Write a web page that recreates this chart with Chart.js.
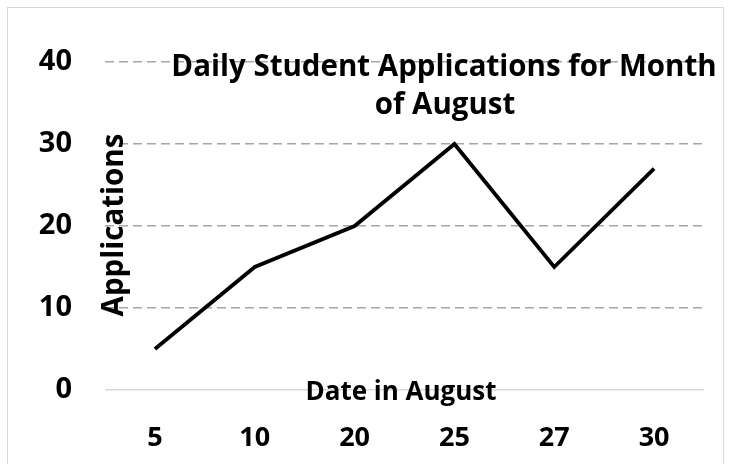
<!DOCTYPE html>
<html>
<head>
<meta charset="utf-8">
<script src="https://cdn.jsdelivr.net/npm/chart.js@4"></script>
<style>
    html, body { margin: 0; padding: 0; background: #fff; }
    #wrap { position: relative; width: 731px; height: 464px; }
    #frame { position: absolute; left: 7px; top: 7px; width: 717px; height: 470px;
             border: 1.5px solid #d9d9d9; box-sizing: border-box; pointer-events: none; }
</style>
</head>
<body>
<div id="wrap">
    <canvas id="applicationsChart" width="731" height="464"></canvas>
    <div id="frame"></div>
</div>
<script>
const dates = ['5', '10', '20', '25', '27', '30'];
const applications = [5, 15, 20, 30, 15, 27];
const yTicks = [0, 10, 20, 30, 40];

const chartTitle = ['Daily Student Applications for Month', 'of August'];
const xTitle = 'Date in August';
const yTitle = 'Applications';

const FONT = '"Open Sans"';

// titles sit inside the plot area in the original, so they are drawn by hand
const overlayTitles = {
    id: 'overlayTitles',
    afterDraw(chart) {
        const { ctx, chartArea, scales } = chart;
        ctx.save();
        ctx.fillStyle = '#000';
        ctx.textAlign = 'center';
        ctx.textBaseline = 'middle';

        ctx.font = `bold 29.5px ${FONT}`;
        ctx.fillText(chartTitle[0], 444, 68);
        ctx.fillText(chartTitle[1], 445, 106);

        ctx.font = `bold 26px ${FONT}`;
        ctx.fillText(xTitle, 401, chartArea.bottom + 3);

        ctx.translate(115, scales.y.getPixelForValue(20) - 1);
        ctx.rotate(-Math.PI / 2);
        ctx.font = `bold 29.5px ${FONT}`;
        ctx.fillText(yTitle, 0, 0);
        ctx.restore();
    }
};

const ctx = document.getElementById('applicationsChart').getContext('2d');
new Chart(ctx, {
    type: 'line',
    data: {
        labels: dates,
        datasets: [{
            label: 'Applications',
            data: applications,
            borderColor: '#000',
            borderWidth: 3.8,
            borderJoinStyle: 'miter',
            pointRadius: 0,
            tension: 0,
            fill: false
        }]
    },
    options: {
        responsive: false,
        animation: false,
        layout: {
            padding: { left: 0, top: 62, right: 27, bottom: 0 }
        },
        plugins: {
            legend: { display: false },
            tooltip: { enabled: false }
        },
        scales: {
            x: {
                offset: true,
                grid: { display: false },
                border: { display: false },
                ticks: {
                    color: '#000',
                    padding: 24,
                    font: { family: FONT, weight: 'bold', size: 27 }
                },
                afterFit: scale => { scale.height = 74; }
            },
            y: {
                min: 0,
                max: 40,
                afterBuildTicks: scale => {
                    scale.ticks = yTicks.map(v => ({ value: v }));
                },
                grid: {
                    drawTicks: false,
                    lineWidth: 1.5,
                    color: c => c.tick && c.tick.value === 0 ? '#d9d9d9' : '#a6a6a6'
                },
                border: {
                    display: false,
                    dash: c => c.tick && c.tick.value === 0 ? [] : [9, 5]
                },
                ticks: {
                    color: '#000',
                    padding: 33,
                    font: { family: FONT, weight: 'bold', size: 29 }
                },
                afterFit: scale => { scale.width = 105; }
            }
        }
    },
    plugins: [overlayTitles]
});
</script>
</body>
</html>
